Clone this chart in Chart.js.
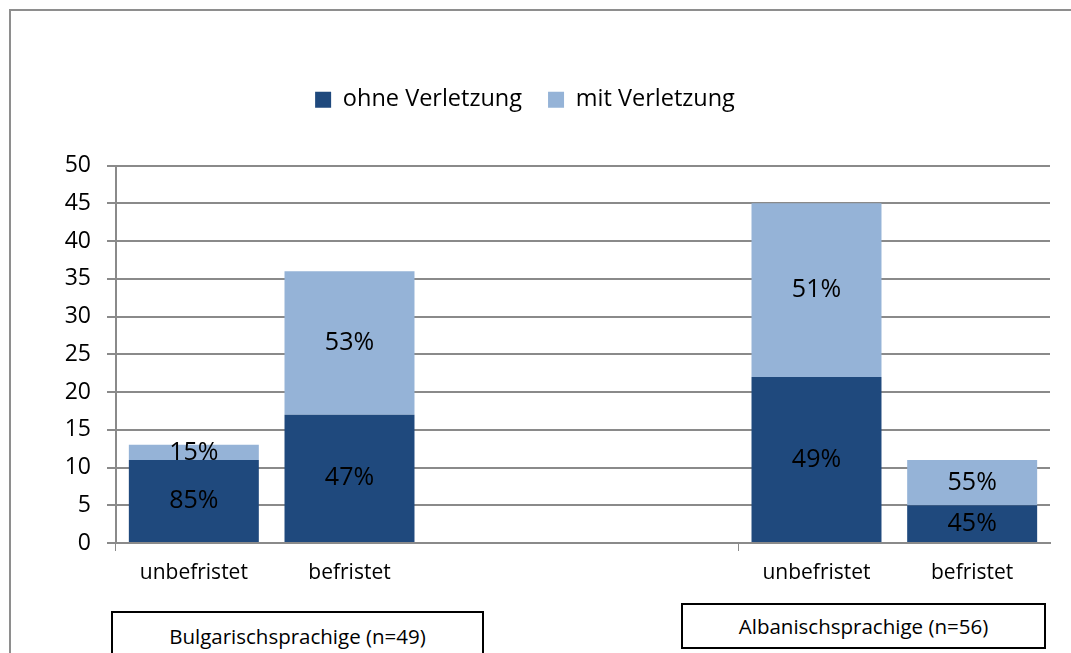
<!DOCTYPE html>
<html>
<head>
<meta charset="utf-8">
<script src="https://cdn.jsdelivr.net/npm/chart.js@4/dist/chart.umd.min.js"></script>
<style>
  body { margin: 0; background: #fff; overflow: hidden; }
  #frame { position: absolute; left: 9px; top: 9px; width: 1100px; height: 700px; border: 2px solid #8e8e8e; }
  #wrap { position: absolute; left: 0; top: 0; width: 1071px; height: 653px; }
  .group-box { position: absolute; border: 2px solid #000; background: #fff; box-sizing: border-box;
    font-family: "Open Sans", sans-serif; font-size: 20.5px; color: #000; text-align: center; }
</style>
</head>
<body>
<div id="frame"></div>
<div id="wrap"><canvas id="chart" width="1071" height="653"></canvas></div>
<script>
// categories: two groups with an empty gap in between
const categories = ['unbefristet', 'befristet', '', '', 'unbefristet', 'befristet'];
const ohneVerletzung = [11, 17, null, null, 22, 5];
const mitVerletzung = [2, 19, null, null, 23, 6];
const groupNames = ['Bulgarischsprachige (n=49)', 'Albanischsprachige (n=56)'];
const yTicks = [0, 5, 10, 15, 20, 25, 30, 35, 40, 45, 50];

const darkBlue = '#1f497d';
const lightBlue = '#95b3d7';
const gridGray = '#8a8a8a';

// group boxes under the axis (placed like the text boxes of the original)
const boxSpots = [
    { left: 111, top: 611, width: 373, height: 60 },
    { left: 681, top: 603, width: 365, height: 46 }
];
groupNames.forEach(function(name, i) {
    const d = document.createElement('div');
    d.className = 'group-box';
    const s = boxSpots[i];
    d.style.left = s.left + 'px';
    d.style.top = s.top + 'px';
    d.style.width = s.width + 'px';
    d.style.height = s.height + 'px';
    d.style.lineHeight = (i == 0 ? 47 : 42) + 'px';
    d.textContent = name;
    document.body.appendChild(d);
});

function pct(i, ds) {
    const total = (ohneVerletzung[i] || 0) + (mitVerletzung[i] || 0);
    return Math.round(ds[i] / total * 100) + '%';
}

const legendSpacer = {
    id: 'legendSpacer',
    beforeInit(chart) {
        const fit = chart.legend.fit;
        chart.legend.fit = function() {
            fit.bind(chart.legend)();
            this.height += 44;
        };
    }
};

const barLabels = {
    id: 'barLabels',
    afterDatasetsDraw(chart) {
        const ctx = chart.ctx;
        ctx.save();
        ctx.font = '25px "Open Sans", sans-serif';
        ctx.fillStyle = '#000';
        ctx.textAlign = 'center';
        ctx.textBaseline = 'middle';
        chart.data.datasets.forEach(function(ds, di) {
            chart.getDatasetMeta(di).data.forEach(function(bar, i) {
                if (ds.data[i] == null) return;
                const p = bar.getProps(['x', 'y', 'base'], true);
                ctx.fillText(pct(i, ds.data), p.x, (p.y + p.base) / 2);
            });
        });
        ctx.restore();
    }
};

new Chart(document.getElementById('chart'), {
    type: 'bar',
    data: {
        labels: categories,
        datasets: [{
            label: 'ohne Verletzung',
            data: ohneVerletzung,
            backgroundColor: darkBlue
        }, {
            label: 'mit Verletzung',
            data: mitVerletzung,
            backgroundColor: lightBlue
        }]
    },
    options: {
        responsive: false,
        animation: false,
        layout: { padding: { left: 0, right: 21, top: 62, bottom: 0 } },
        datasets: {
            bar: { categoryPercentage: 1, barPercentage: 0.835 }
        },
        plugins: {
            legend: {
                position: 'top',
                labels: {
                    boxWidth: 16,
                    boxHeight: 16,
                    padding: 26,
                    color: '#000',
                    font: { family: '"Open Sans", sans-serif', size: 23.5 }
                }
            },
            tooltip: { enabled: false }
        },
        scales: {
            x: {
                stacked: true,
                afterFit: function(scale) { scale.height = 110; },
                grid: {
                    offset: true,
                    drawOnChartArea: false,
                    tickLength: 8,
                    color: function(c) {
                        return (c.index == 0 || c.index == 4 || c.index == 6) ? gridGray : 'rgba(0,0,0,0)';
                    }
                },
                border: { color: gridGray, width: 2 },
                ticks: {
                    padding: 9,
                    color: '#000',
                    font: { family: '"Open Sans", sans-serif', size: 21 }
                }
            },
            y: {
                stacked: true,
                min: 0,
                max: 50,
                afterFit: function(scale) { scale.width = 116; },
                afterBuildTicks: function(scale) {
                    scale.ticks = yTicks.map(function(v) { return { value: v }; });
                },
                grid: { color: gridGray, lineWidth: 2, tickLength: 9 },
                border: { color: gridGray, width: 2 },
                ticks: {
                    padding: 16,
                    color: '#000',
                    font: { family: '"Open Sans", sans-serif', size: 23 }
                }
            }
        }
    },
    plugins: [legendSpacer, barLabels]
});
</script>
</body>
</html>
